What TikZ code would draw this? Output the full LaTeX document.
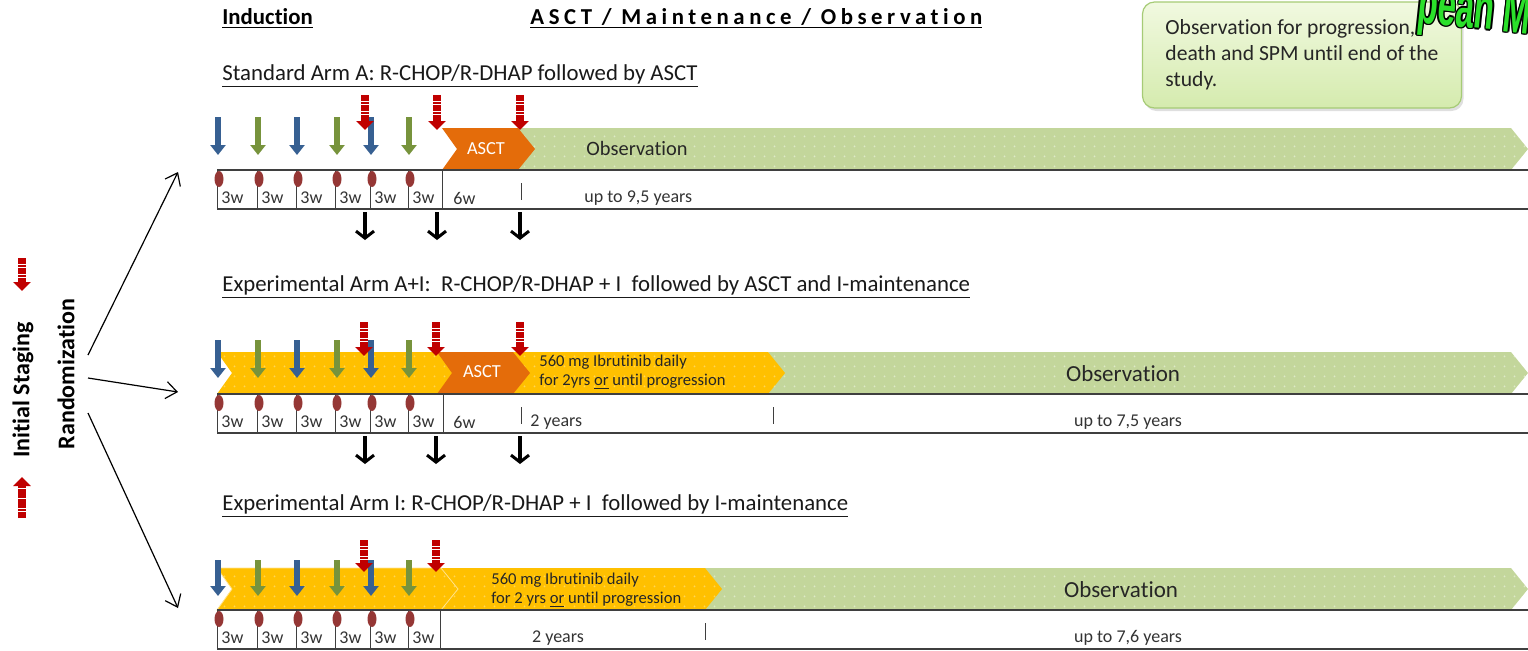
\documentclass[tikz,border=0pt]{standalone}
\usepackage{fontspec}
\setmainfont{Carlito}[Ligatures=NoCommon]
\newfontfamily\brandfont{Liberation Sans}
\usepackage{xcolor}
\usepackage{tikz}
\usetikzlibrary{arrows.meta,positioning,calc,patterns.meta,shadows}
\definecolor{indblue}{HTML}{376092}
\definecolor{indgreen}{HTML}{77933C}
\definecolor{stagered}{HTML}{C00000}
\definecolor{asctorange}{HTML}{E46C0A}
\definecolor{ibruyellow}{HTML}{FFC000}
\definecolor{obsgreen}{HTML}{C3D69B}
\definecolor{ovalred}{HTML}{953735}
\definecolor{notetop}{HTML}{F1F9E0}
\definecolor{notebot}{HTML}{D5EBAE}
\definecolor{noteedge}{HTML}{A6CB76}
\definecolor{linegray}{HTML}{3F3F3F}
\definecolor{brandgreen}{HTML}{2BE02B}

\tikzdeclarepattern{
  name=softdots,
  type=uncolored,
  bounding box={(0pt,0pt) and (5pt,5pt)},
  tile size={(5pt,5pt)},
  code={\fill (2.5pt,2.5pt) circle [radius=0.55pt];}
}

% one bar segment: left notch, right tip (pixel units)
\newcommand{\chevpath}[2]{(#1,0) -- ({#2-17},0) -- (#2,21) -- ({#2-17},42) -- (#1,42) -- ({#1+15},21) -- cycle}

\begin{document}
\begin{tikzpicture}[
  x=0.5pt, y=-0.5pt,
  font=\fontsize{9}{10.8}\selectfont,
  header/.style={font=\fontsize{11.4}{13}\selectfont\bfseries, anchor=base west, inner sep=0pt},
  armtitle/.style={font=\fontsize{11.4}{13}\selectfont, anchor=base west, inner sep=0pt, text=black!90},
  sidelabel/.style={font=\fontsize{12}{14}\selectfont\bfseries, rotate=90, inner sep=0pt},
  cell/.style={font=\fontsize{9}{10.8}\selectfont, text=black!80, anchor=west, inner sep=0pt},
  bartext/.style={font=\fontsize{8.3}{9.4}\selectfont, align=left, anchor=west, inner sep=0pt, text=black!85},
  obstext/.style={font=\fontsize{11.5}{13}\selectfont, text=black!85, inner sep=0pt},
  ascttext/.style={font=\fontsize{9.2}{11}\selectfont, text=white, inner sep=0pt},
  notebox/.style={draw=noteedge, line width=0.6pt, rounded corners=6pt,
    top color=notetop, bottom color=notebot,
    drop shadow={opacity=0.25, shadow xshift=1pt, shadow yshift=-1.5pt},
    minimum width=159.5pt, minimum height=53pt,
    align=left, font=\fontsize{10.8}{13}\selectfont, text=black!85},
  brand/.style={font=\brandfont\fontsize{30}{30}\selectfont\bfseries, anchor=base west,
    inner sep=0pt, rotate=-6, xscale=0.55},
  obsbar/.style={fill=obsgreen, postaction={pattern=softdots, pattern color=white, fill opacity=0.45}},
  yellowbar/.style={fill=ibruyellow, postaction={pattern=softdots, pattern color=white, fill opacity=0.35}},
  asctbar/.style={fill=asctorange},
  timeline/.style={linegray, line width=0.9pt},
  divider/.style={linegray, line width=0.5pt},
  oval/.style={fill=ovalred},
  bluearrow/.style={-{Triangle[width=7.5pt,length=5pt]}, line width=2.8pt, indblue},
  greenarrow/.style={-{Triangle[width=7.5pt,length=5pt]}, line width=2.8pt, indgreen},
  redarrow/.style={-{Triangle[width=8.5pt,length=4.5pt]}, line width=3.8pt, stagered,
    dash pattern=on 1.4pt off 0.25pt},
  blackarrow/.style={-{Straight Barb[length=3.5pt,width=9pt,line width=1.5pt]}, line width=1.8pt},
  randarrow/.style={-{Straight Barb[length=5.5pt,width=8.5pt]}, line width=0.6pt}
]
\clip (0,0) rectangle (1528,650);

% ---------------- headers and note ----------------
\node[header] (induction) at (222,24) {\underline{Induction}};
\node[header, font=\fontsize{11.4}{13}\selectfont\bfseries\addfontfeature{LetterSpace=20}] (phases) at (530,24)
  {\underline{ASCT / Maintenance / Observation}};
\node[notebox] (note) at (1302,55)
  {Observation for progression,\\death and SPM until end of the\\study.};
\foreach \dx/\dy [count=\k] in {-1.5/0,1.5/0,0/-1.5,0/1.5,-1/-1,1/1,-1/1,1/-1}
  \node[brand, text=black] (brandback\k) at (1416+\dx,22+\dy) {pean M};
\node[brand, text=brandgreen] (brand) at (1416,22) {pean M};

% ---------------- staging and randomization ----------------
\node[sidelabel] (staging) at (23,390) {Initial Staging};
\node[sidelabel] (rand) at (66,374) {Randomization};
\draw[redarrow] (22,258) -- (22,291);
\draw[redarrow] (22,518) -- (22,477);
\coordinate (fanA) at (88,355);
\coordinate (fanAI) at (88,378);
\coordinate (fanI) at (88,413);
\coordinate (startA) at (178,172);
\coordinate (startAI) at (178,392);
\coordinate (startI) at (178,608);
\draw[randarrow] (fanA) -- (startA);
\draw[randarrow] (fanAI) -- (startAI);
\draw[randarrow] (fanI) -- (startI);

% ---------------- arm A: R-CHOP/R-DHAP + ASCT ----------------
\node[armtitle] (titleA) at (222,80) {\underline{Standard Arm A: R-CHOP/R-DHAP followed by ASCT}};
\begin{scope}[shift={(0,128)}]
  \path[obsbar] \chevpath{518}{1528};
  \path[asctbar] \chevpath{442}{535};
  \node[ascttext] (asctA) at (486,21) {ASCT};
  \node[obstext, font=\fontsize{10.2}{12}\selectfont] (obsA) at (637,20) {Observation};
  \draw[timeline] (217,42) -- (1530,42);
  \draw[timeline] (217,81) -- (1530,81);
  \foreach \x [count=\i] in {217,257,296,335,370,408} {
    \draw[divider] (\x,42) -- (\x,81);
    \fill[oval] (\x+2,51) ellipse [x radius=4.5, y radius=8];
    \node[cell] (wA\i) at (\x+4,70) {3w};
  }
  \draw[divider] (442,42) -- (442,81);
  \draw[divider] (521,55) -- (521,72);
  \node[cell] (sixA) at (453,70) {6w};
  \node[cell] (upA) at (584,70) {up to 9,5 years};
  \foreach \x in {218,297,371} \draw[bluearrow] (\x,-11) -- (\x,27);
  \foreach \x in {258,337,409} \draw[greenarrow] (\x,-11) -- (\x,27);
  \foreach \x in {365,437,520} \draw[redarrow] (\x,-33) -- (\x,2);
  \foreach \x in {365,437,520} \draw[blackarrow] (\x,84) -- (\x,112);
\end{scope}

% ---------------- arm A+I: + ibrutinib, ASCT, maintenance ----------------
\node[armtitle] (titleAI) at (222,291)
  {\underline{Experimental Arm A+I:\ \ R-CHOP/R-DHAP + I\ \ followed by ASCT and I-maintenance}};
\begin{scope}[shift={(0,352)}]
  \path[obsbar] \chevpath{768}{1528};
  \path[yellowbar] \chevpath{217}{785};
  \path[asctbar] \chevpath{437}{530};
  \node[ascttext] (asctAI) at (482,20) {ASCT};
  \node[bartext] (ibruAI) at (539,20) {560 mg Ibrutinib daily\\for 2yrs \underline{or} until progression};
  \node[obstext] (obsAI) at (1123,22) {Observation};
  \draw[timeline] (217,42) -- (1530,42);
  \draw[timeline] (217,81) -- (1530,81);
  \foreach \x [count=\i] in {217,257,296,335,370,408} {
    \draw[divider] (\x,42) -- (\x,81);
    \fill[oval] (\x+2,51) ellipse [x radius=4.5, y radius=8];
    \node[cell] (wAI\i) at (\x+4,70) {3w};
  }
  \draw[divider] (443,42) -- (443,81);
  \draw[divider] (521,55) -- (521,72);
  \draw[divider] (773,55) -- (773,72);
  \node[cell] (sixAI) at (453,70) {6w};
  \node[cell] (twoAI) at (530,70) {2 years};
  \node[cell, anchor=center] (upAI) at (1128,70) {up to 7,5 years};
  \foreach \x in {218,297,371} \draw[bluearrow] (\x,-12) -- (\x,26);
  \foreach \x in {258,337,409} \draw[greenarrow] (\x,-12) -- (\x,26);
  \foreach \x in {364,436,520} \draw[redarrow] (\x,-30) -- (\x,4);
  \foreach \x in {365,436,520} \draw[blackarrow] (\x,84) -- (\x,112);
\end{scope}

% ---------------- arm I: + ibrutinib, maintenance ----------------
\node[armtitle] (titleI) at (222,510)
  {\underline{Experimental Arm I: R-CHOP/R-DHAP + I\ \ followed by I-maintenance}};
\begin{scope}[shift={(0,568)}]
  \path[obsbar] \chevpath{703}{1528};
  \path[yellowbar] \chevpath{440}{722};
  \path[yellowbar, draw=white!55!ibruyellow, line width=0.4pt] \chevpath{217}{458};
  \node[bartext] (ibruI) at (491,22) {560 mg Ibrutinib daily\\for 2 yrs \underline{or} until progression};
  \node[obstext] (obsI) at (1121,22) {Observation};
  \draw[timeline] (217,42) -- (1530,42);
  \draw[timeline] (217,81) -- (1530,81);
  \foreach \x [count=\i] in {217,257,296,335,370,408} {
    \draw[divider] (\x,42) -- (\x,81);
    \fill[oval] (\x+2,51) ellipse [x radius=4.5, y radius=8];
    \node[cell] (wI\i) at (\x+4,70) {3w};
  }
  \draw[divider] (440,42) -- (440,81);
  \draw[divider] (705,55) -- (705,72);
  \node[cell, anchor=center] (twoI) at (558,70) {2 years};
  \node[cell, anchor=center] (upI) at (1128,70) {up to 7,6 years};
  \foreach \x in {218,297,371} \draw[bluearrow] (\x,-8) -- (\x,28);
  \foreach \x in {258,337,409} \draw[greenarrow] (\x,-8) -- (\x,28);
  \foreach \x in {364,436} \draw[redarrow] (\x,-28) -- (\x,4);
\end{scope}
\end{tikzpicture}
\end{document}
